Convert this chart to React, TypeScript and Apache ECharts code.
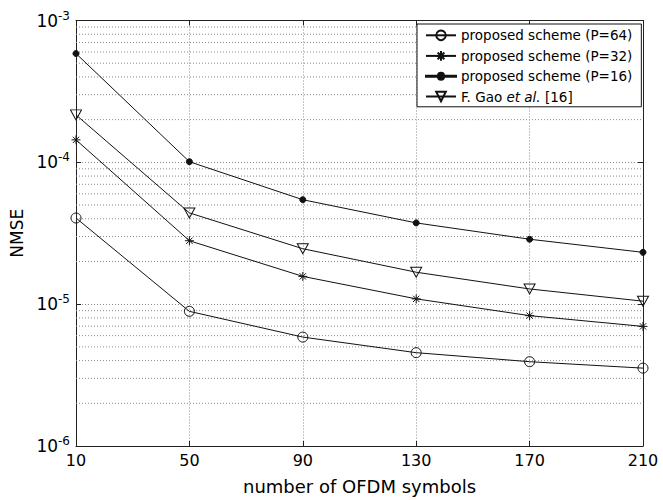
import React, { useEffect, useRef } from "react";
import * as echarts from "echarts";

const symbolsX = ["10", "50", "90", "130", "170", "210"];
const p64 = [4.05e-5, 8.9e-6, 5.86e-6, 4.55e-6, 3.93e-6, 3.54e-6];
const p32 = [1.44e-4, 2.8e-5, 1.57e-5, 1.09e-5, 8.3e-6, 6.97e-6];
const p16 = [5.85e-4, 1.01e-4, 5.45e-5, 3.74e-5, 2.87e-5, 2.32e-5];
const gao = [2.16e-4, 4.4e-5, 2.46e-5, 1.68e-5, 1.28e-5, 1.05e-5];
const seriesNames = [
  "proposed scheme (P=64)",
  "proposed scheme (P=32)",
  "proposed scheme (P=16)",
  "F. Gao et al. [16]",
];
const decades = [1e-6, 1e-5, 1e-4];
const minorMultipliers = [2, 3, 4, 5, 6, 7, 8, 9];

const FONT = "DejaVu Sans";
const GRID_COLOR = "#8a8a8a";
const AXIS_COLOR = "#222";

const starPath =
  "path://M5,0L5,10M0,5L10,5M1.5,1.5L8.5,8.5M1.5,8.5L8.5,1.5";
const triDownPath = "path://M0,0L10,0L5,9Z";
const dotLegendIcon =
  "path://M0,5.5L12,5.5A3,3 0 0,1 18,5.5L30,5.5L30,6.5L18,6.5A3,3 0 0,1 12,6.5L0,6.5Z";

export default function App() {
  const ref = useRef<HTMLDivElement>(null);
  useEffect(() => {
    if (!ref.current) return;
    const chart = echarts.init(ref.current, undefined, { renderer: "svg" });
    const minorValues: number[] = [];
    decades.forEach((d) => minorMultipliers.forEach((m) => minorValues.push(d * m)));

    const baseSeries = (name: string, data: number[], symbol: string, size: any, filled: boolean) => ({
      name,
      type: "line",
      data,
      symbol,
      symbolSize: size,
      showAllSymbol: true,
      lineStyle: { color: "#111", width: 1 },
      itemStyle: filled
        ? { color: "#111", borderColor: "#111", borderWidth: 1 }
        : { color: "none", borderColor: "#111", borderWidth: 1 },
      emphasis: { disabled: true },
      z: 3,
    });

    const gridSeries = minorValues.map((v) => ({
      name: "minor-" + v,
      type: "line",
      data: symbolsX.map(() => v),
      symbol: "none",
      silent: true,
      lineStyle: { color: GRID_COLOR, type: [1, 2], width: 1 },
      emphasis: { disabled: true },
      tooltip: { show: false },
      z: 1,
    }));

    const tickFmt = (value: number) => {
      const e = Math.round(Math.log10(value));
      return `{b|10}{s|${e}}`;
    };

    const option: any = {
      animation: false,
      backgroundColor: "#fff",
      grid: { left: 76, right: 20, top: 20.5, bottom: 53, containLabel: false },
      legend: {
        orient: "vertical",
        left: 417,
        top: 24,
        backgroundColor: "#fff",
        borderColor: "#111",
        borderWidth: 1,
        borderRadius: 0,
        padding: [4, 9, 3, 8],
        itemWidth: 30,
        itemHeight: 12,
        itemGap: 6,
        data: [
          seriesNames[0],
          seriesNames[1],
          { name: seriesNames[2], icon: dotLegendIcon },
          seriesNames[3],
        ],
        formatter: (name: string) =>
          name === seriesNames[3]
            ? "{a|F. Gao }{i|et al.}{a| [16]}"
            : `{a|${name}}`,
        textStyle: {
          color: "#000",
          fontFamily: FONT,
          fontSize: 13.5,
          rich: {
            a: { fontFamily: FONT, fontSize: 13.5, color: "#000" },
            i: { fontFamily: FONT, fontSize: 13.5, color: "#000", fontStyle: "italic" },
          },
        },
      },
      xAxis: [
        {
          type: "category",
          data: symbolsX,
          boundaryGap: false,
          position: "bottom",
          name: "number of OFDM symbols",
          nameLocation: "middle",
          nameGap: 31,
          nameTextStyle: { fontFamily: FONT, fontSize: 18, color: "#000" },
          axisLine: { show: true, lineStyle: { color: AXIS_COLOR, width: 1 } },
          axisTick: { show: true, inside: true, length: 5, alignWithLabel: true, lineStyle: { color: AXIS_COLOR } },
          axisLabel: { fontFamily: FONT, fontSize: 16, color: "#000", margin: 6 },
          splitLine: { show: true, lineStyle: { color: GRID_COLOR, type: [1, 2], width: 1 } },
        },
        {
          type: "category",
          data: symbolsX,
          boundaryGap: false,
          position: "top",
          axisLine: { show: true, lineStyle: { color: AXIS_COLOR, width: 1 } },
          axisTick: { show: true, inside: true, length: 5, alignWithLabel: true, lineStyle: { color: AXIS_COLOR } },
          axisLabel: { show: false },
          splitLine: { show: false },
        },
      ],
      yAxis: [
        {
          type: "log",
          logBase: 10,
          min: 1e-6,
          max: 1e-3,
          position: "left",
          name: "NMSE",
          nameLocation: "middle",
          nameGap: 39,
          nameRotate: 90,
          nameTextStyle: { fontFamily: FONT, fontSize: 17, color: "#000" },
          axisLine: { show: true, lineStyle: { color: AXIS_COLOR, width: 1 } },
          axisTick: { show: true, inside: true, length: 5, lineStyle: { color: AXIS_COLOR } },
          axisLabel: {
            formatter: tickFmt,
            margin: 6,
            color: "#000",
            rich: {
              b: { fontFamily: FONT, fontSize: 17, color: "#000", lineHeight: 18, verticalAlign: "middle" },
              s: { fontFamily: FONT, fontSize: 12, color: "#000", lineHeight: 12, verticalAlign: "middle", padding: [0, 0, 10, 0] },
            },
          },
          splitLine: { show: true, lineStyle: { color: GRID_COLOR, type: [1, 2], width: 1 } },
        },
        {
          type: "log",
          logBase: 10,
          min: 1e-6,
          max: 1e-3,
          position: "right",
          axisLine: { show: true, lineStyle: { color: AXIS_COLOR, width: 1 } },
          axisTick: { show: true, inside: true, length: 5, lineStyle: { color: AXIS_COLOR } },
          axisLabel: { show: false },
          splitLine: { show: false },
        },
      ],
      series: [
        ...gridSeries,
        baseSeries(seriesNames[0], p64, "circle", 10, false),
        baseSeries(seriesNames[1], p32, starPath, 9, false),
        baseSeries(seriesNames[2], p16, "circle", 6, true),
        baseSeries(seriesNames[3], gao, triDownPath, [11, 10], false),
      ],
    };
    chart.setOption(option);
    return () => chart.dispose();
  }, []);
  return (
    <div
      ref={ref}
      style={{ position: "absolute", left: 0, top: 0, width: 663, height: 500, background: "#fff" }}
    />
  );
}
